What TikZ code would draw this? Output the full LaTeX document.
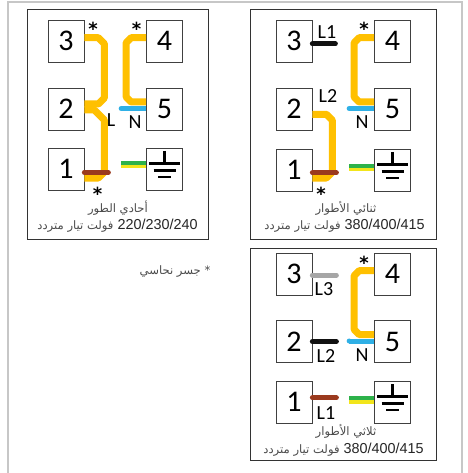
\documentclass[tikz,border=0pt]{standalone}
\usepackage{fontspec}
\setmainfont{Liberation Sans}
\newfontfamily\lblfont{Carlito}
\newfontfamily\starfont{DejaVu Sans}[BoldFont={DejaVu Sans Bold}]
\newfontfamily\arabicfont[Script=Arabic]{DejaVu Sans}
\TeXXeTstate=1
\usetikzlibrary{calc}
\definecolor{wireY}{HTML}{FFC000}
\definecolor{wireB}{HTML}{2FB0E6}
\definecolor{wireBr}{HTML}{9B3A1E}
\definecolor{wireG}{HTML}{2DB24A}
\definecolor{wireE}{HTML}{F2E51B}
\definecolor{wireK}{HTML}{111111}
\definecolor{wireS}{HTML}{A6A6A6}
\definecolor{txtc}{HTML}{262626}
\tikzset{
  frame/.style={draw=black!80,line width=0.8pt,fill=white,anchor=north west,inner sep=0pt},
  termbox/.style={draw=black!75,line width=0.7pt,fill=white,minimum width=36pt,minimum height=42pt,inner sep=0pt,font=\lblfont\fontsize{30}{30}\selectfont},
  busbar/.style={wireY,line width=7pt,line join=bevel},
  tail/.style={line width=5pt,line cap=round},
  flat/.style={line width=3.8pt},
  gnd/.style={black,line width=2.3pt},
  lbl/.style={font=\lblfont\fontsize{20}{20}\selectfont,inner sep=0pt},
  star/.style={font=\starfont\bfseries\fontsize{18}{18}\selectfont,inner sep=0pt,anchor=base},
  captxt/.style={font=\fontsize{14.4}{15}\selectfont,text=txtc,inner sep=0pt},
}
\newcommand{\ar}[1]{{\arabicfont\fontsize{11.6}{13}\selectfont\color{black!70}\beginR #1\endR}}
% terminal panel: #1 prefix, #2 left x, #3 right x, #4 y row1, #5 y row2, #6 y row3, #7 earth lift
\newcommand{\terms}[7]{%
  \node[termbox] (#13) at (#2,#4) {3};
  \node[termbox] (#14) at (#3,#4) {4};
  \node[termbox] (#12) at (#2,#5) {2};
  \node[termbox] (#15) at (#3,#5) {5};
  \node[termbox] (#11) at (#2,#6) {1};
  \node[termbox] (#1g) at (#3,#6) {};
  \draw[gnd] ([yshift=18pt]#1g.center) -- ([yshift=5.5pt]#1g.center);
  \draw[gnd] ([xshift=-15.5pt,yshift=5.5pt]#1g.center) -- ([xshift=15.5pt,yshift=5.5pt]#1g.center);
  \draw[gnd] ([xshift=-11pt,yshift=-1.5pt]#1g.center) -- ([xshift=11pt,yshift=-1.5pt]#1g.center);
  \draw[gnd] ([xshift=-6.5pt,yshift=-8pt]#1g.center) -- ([xshift=6.5pt,yshift=-8pt]#1g.center);
  \draw[wireE,flat] ([yshift=#7pt,xshift=-25pt]#1g.west) -- ([yshift=#7pt]#1g.west);
  \draw[wireG,flat] ([yshift=#7pt+3.7pt,xshift=-25pt]#1g.west) -- ([yshift=#7pt+3.7pt]#1g.west);
  % bridge 4-5
  \draw[busbar] ([yshift=3.3pt]#14.west) -- ++(-15,0) -- ++(-5,5) -- ([xshift=-20pt,yshift=12pt]#15.west) -- ++(5,5) -- ([yshift=7pt]#15.west);
  \draw[wireB,line width=5pt] ([xshift=-25pt,yshift=0.5pt]#15.west) -- ([yshift=0.5pt]#15.west);
  \fill[wireB] ([xshift=-25pt,yshift=0.5pt]#15.west) circle (2.5pt);
}
\begin{document}
\begin{tikzpicture}[x=1pt,y=-1pt]
\useasboundingbox (0,0) rectangle (467,473);
\fill[white] (0,0) rectangle (467,473);
\draw[black!22,line width=2.2pt] (8,473) -- (8,2) -- (462,2) -- (462,473);
\node[frame,minimum width=181pt,minimum height=230pt] (pa) at (27,9) {};
\node[frame,minimum width=186pt,minimum height=230pt] (pb) at (250,9) {};
\node[frame,minimum width=186pt,minimum height=212pt] (pc) at (250,248) {};
% panel A
\terms{a}{66}{164.5}{41}{109}{169}{2.7}
\draw[busbar] ([yshift=3.3pt]a3.east) -- ++(14,0) -- ++(6,6) -- ([xshift=20pt,yshift=11pt]a2.east) -- ++(-6,6) -- ([yshift=5pt]a2.east);
\draw[busbar] ([yshift=-1pt]a2.east) -- ++(10,0) -- ++(10,10) -- ([xshift=20pt,yshift=-3pt]a1.east) -- ++(-6,6) -- ([yshift=-9pt]a1.east);
\draw[wireBr,tail] ([yshift=-3.5pt]a1.east) -- ++(24,0);
\node[lbl] (la) at (111,120) {L};
\node[lbl] (na) at (135,122) {N};
\node[star] (sa1) at (93,36) {*};
\node[star] (sa2) at (136.5,36) {*};
\node[star] (sa3) at (97.5,200) {*};
\node[captxt] (ca1) at (118,208) {\ar{أحادي الطور}};
\node[captxt] (ca2) at (117.5,226) {\ar{فولت تيار متردد} 220/230/240};
% panel B
\terms{b}{294}{392.5}{41}{109}{170}{0.7}
\draw[wireK,tail] ([yshift=-3pt]b3.east) -- ++(23,0);
\draw[busbar] ([yshift=-5.3pt]b2.east) -- ++(14,0) -- ++(6,6) -- ([xshift=20pt,yshift=-2pt]b1.east) -- ++(-6,6) -- ([yshift=-8pt]b1.east);
\draw[wireBr,tail] ([yshift=-2.7pt]b1.east) -- ++(24,0);
\node[lbl] (lb1) at (327,32.5) {L1};
\node[lbl] (lb2) at (328,96.5) {L2};
\node[lbl] (nb) at (362,122) {N};
\node[star] (sb1) at (364,36) {*};
\node[star] (sb2) at (321,200) {*};
\node[captxt] (cb1) at (346,208) {\ar{ثنائي الأطوار}};
\node[captxt] (cb2) at (344.5,225.5) {\ar{فولت تيار متردد} 380/400/415};
% panel C
\terms{c}{294}{392.5}{274}{341.5}{402}{0.3}
\draw[wireS,tail] ([yshift=-1pt]c3.east) -- ++(24,0);
\draw[wireK,tail] (c2.east) -- ++(24,0);
\draw[wireBr,tail] ([yshift=4.3pt]c1.east) -- ++(24,0);
\node[lbl] (lc3) at (324,289) {L3};
\node[lbl] (lc2) at (326,356.5) {L2};
\node[lbl] (lc1) at (326,413) {L1};
\node[lbl] (nc) at (362,355) {N};
\node[star] (sc1) at (364,269) {*};
\node[captxt] (cc1) at (346,431.5) {\ar{ثلاثي الأطوار}};
\node[captxt] (cc2) at (343.5,450) {\ar{فولت تيار متردد} 380/400/415};
% note
\node[captxt] (note) at (175,272) {\ar{* جسر نحاسي}};
\end{tikzpicture}
\end{document}
